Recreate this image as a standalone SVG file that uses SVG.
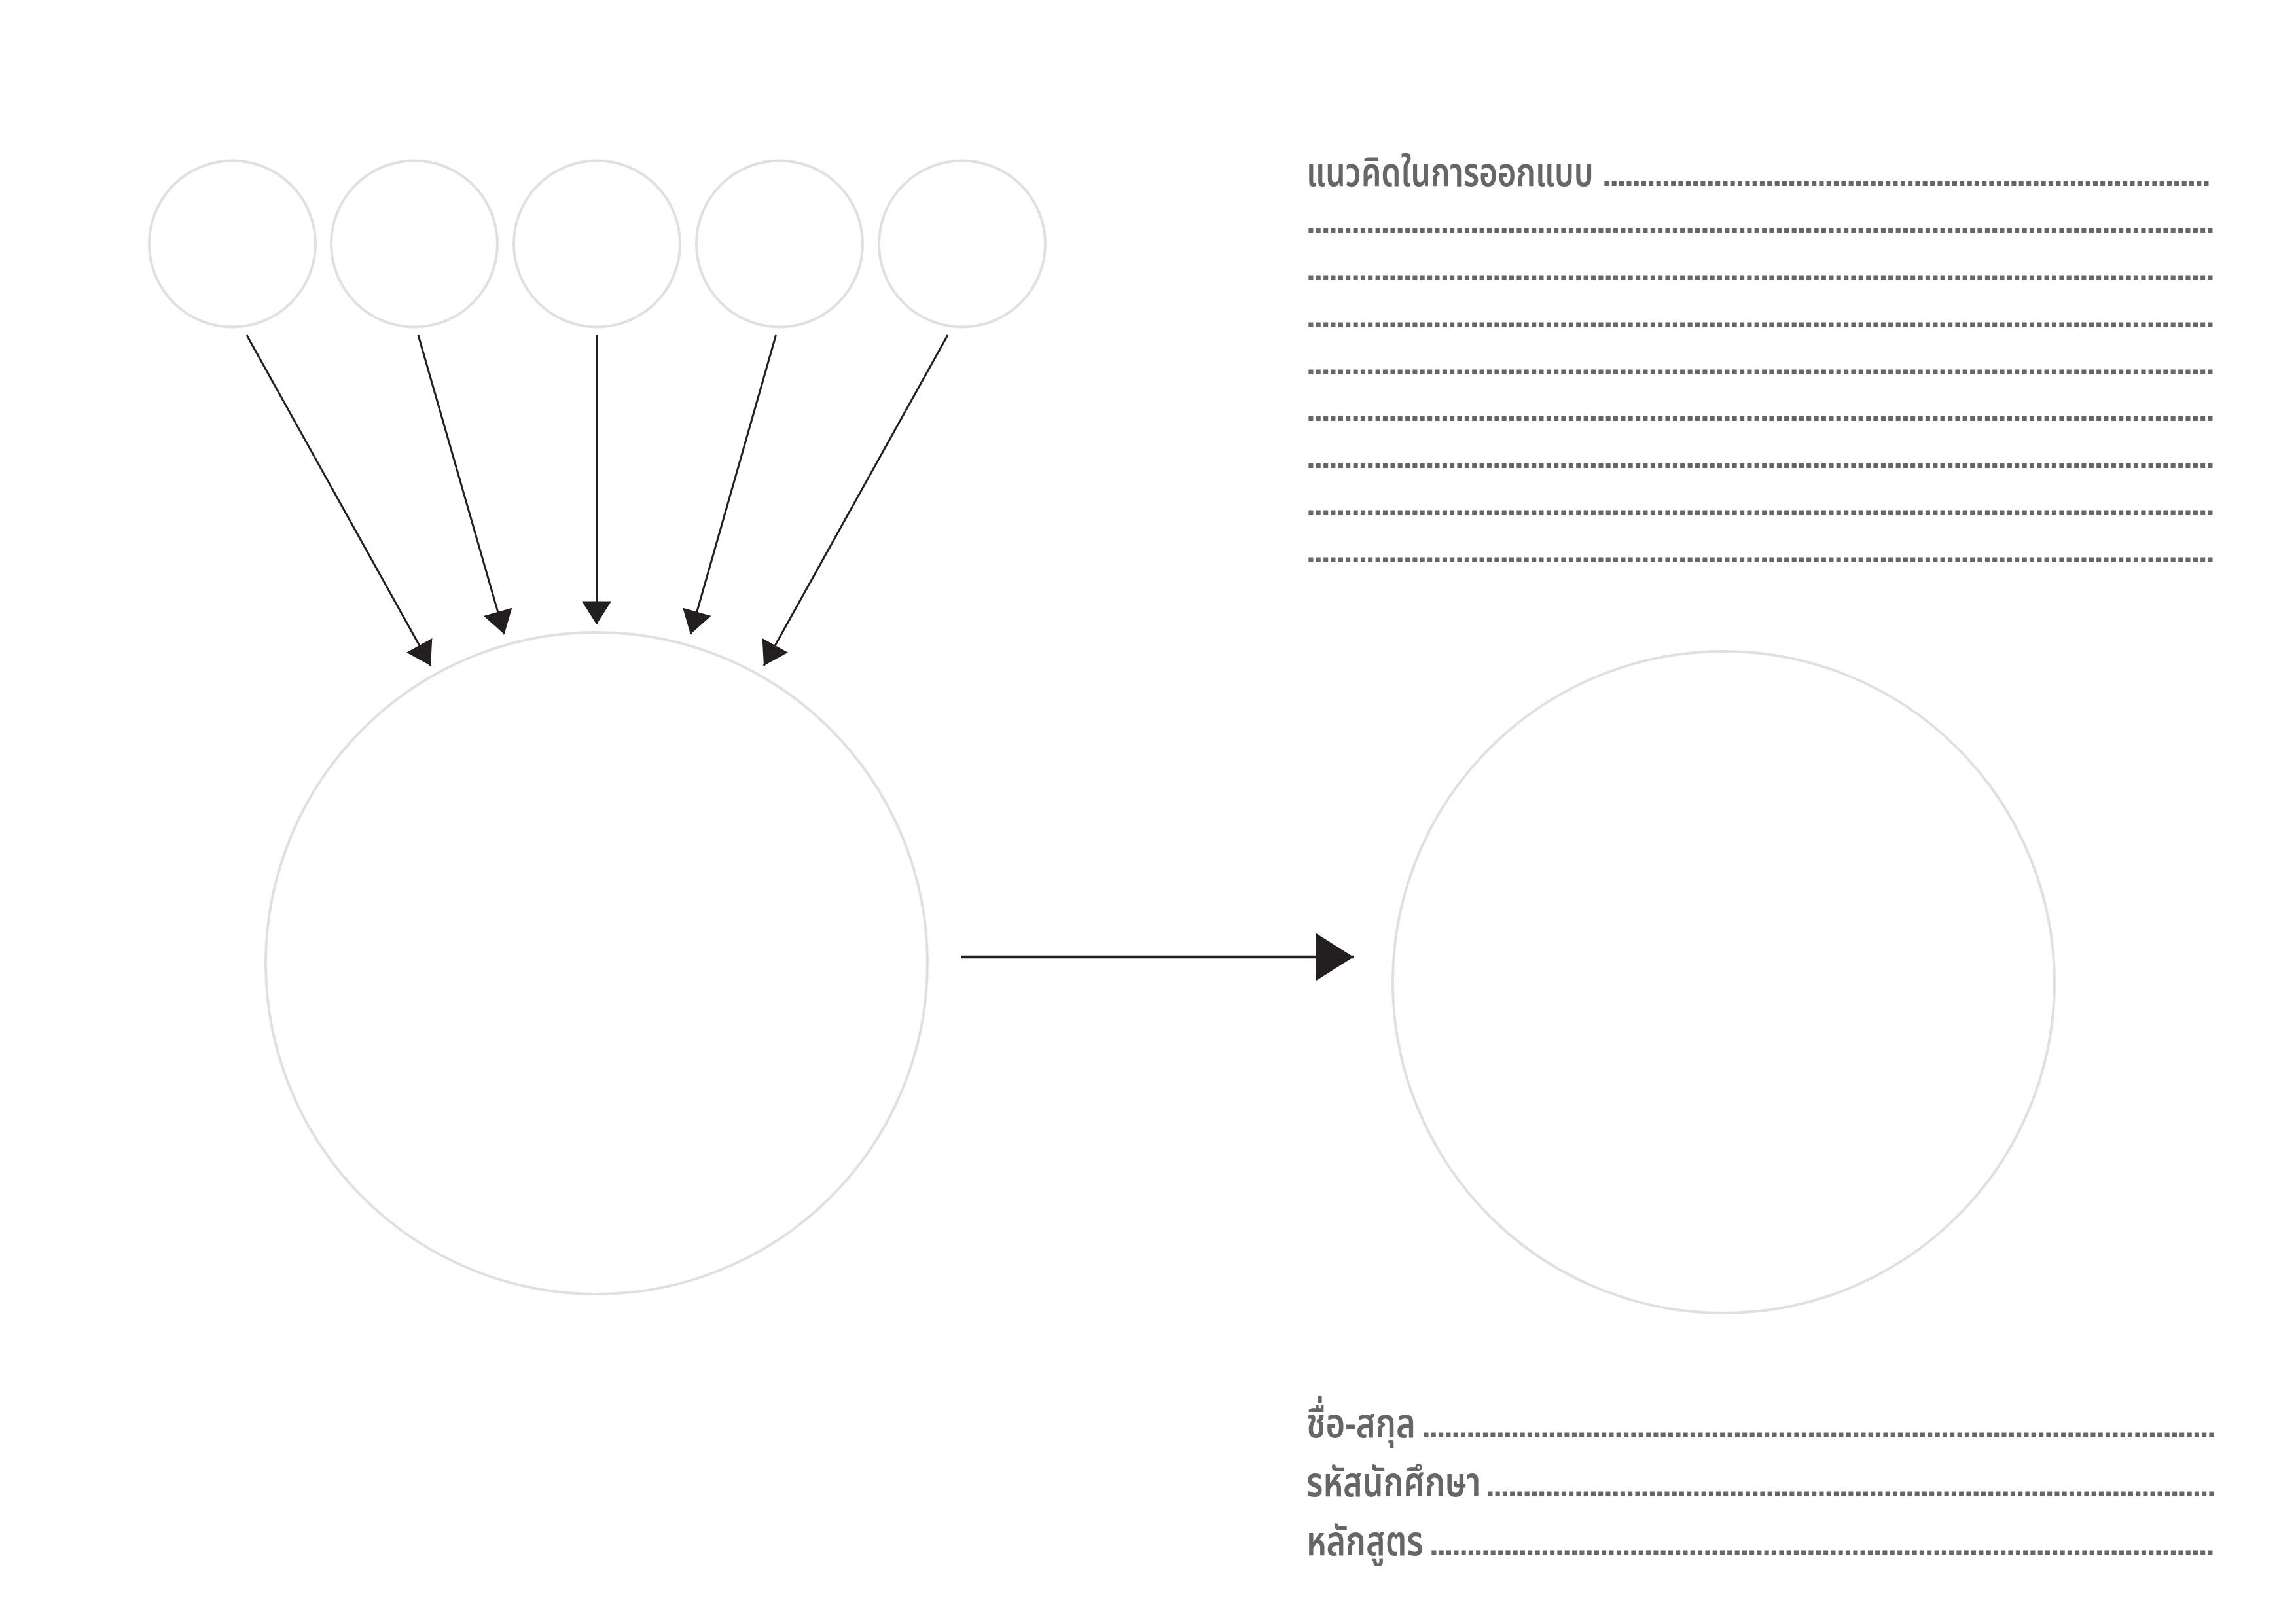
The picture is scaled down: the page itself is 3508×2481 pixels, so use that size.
<svg xmlns="http://www.w3.org/2000/svg" width="3508" height="2481" viewBox="0 0 3508 2481">
<style>
.node{fill:none;stroke:#e0e0e0;stroke-width:4}
.conn{stroke:#231f20;stroke-width:3;fill:none}
.main{stroke:#231f20;stroke-width:4.5;fill:none}
.lbl{font-family:"Noto Sans Thai","Noto Sans Thai UI","Noto Sans","DejaVu Sans",sans-serif;fill:#666666;font-weight:600}
.dots{font-family:"Liberation Sans","DejaVu Sans",sans-serif;font-size:50px;font-weight:bold;fill:#666666}
</style>
<defs>
<marker id="ah" markerUnits="userSpaceOnUse" markerWidth="36" markerHeight="45" refX="34" refY="21.5" orient="auto" viewBox="0 0 34 43">
<path d="M0,0 L34,21.5 L0,43 Z" fill="#231f20"/>
</marker>
<marker id="ahBig" markerUnits="userSpaceOnUse" markerWidth="58" markerHeight="73" refX="56" refY="35.5" orient="auto" viewBox="0 0 56 71">
<path d="M0,0 L56,35.5 L0,71 Z" fill="#231f20"/>
</marker>
</defs>
<rect width="3508" height="2481" fill="#ffffff"/>
<g id="input1"><circle class="node" cx="355" cy="372.5" r="127"/></g>
<g id="input2"><circle class="node" cx="633" cy="372.5" r="127"/></g>
<g id="input3"><circle class="node" cx="912" cy="372.5" r="127"/></g>
<g id="input4"><circle class="node" cx="1191" cy="372.5" r="127"/></g>
<g id="input5"><circle class="node" cx="1470" cy="372.5" r="127"/></g>
<g id="combine"><circle class="node" cx="911.5" cy="1471.5" r="505.5"/></g>
<g id="result"><circle class="node" cx="2633.5" cy="1500.5" r="505.5"/></g>
<g id="connectors">
<line class="conn" x1="377" y1="512" x2="658" y2="1017" marker-end="url(#ah)"/>
<line class="conn" x1="639" y1="512" x2="770.5" y2="969" marker-end="url(#ah)"/>
<line class="conn" x1="911.5" y1="512" x2="911.5" y2="954" marker-end="url(#ah)"/>
<line class="conn" x1="1185.5" y1="512" x2="1055" y2="969" marker-end="url(#ah)"/>
<line class="conn" x1="1448" y1="512" x2="1167" y2="1017" marker-end="url(#ah)"/>
<line class="main" x1="1469" y1="1462" x2="2068" y2="1462" marker-end="url(#ahBig)"/>
</g>
<g id="concept">
<text class="lbl" transform="translate(1996,284) scale(0.80,1)" font-size="60">แนวคิดในการออกแบบ</text>
<text class="dots" x="2448" y="284" textLength="930" lengthAdjust="spacing">..................................................................................</text>
<text class="dots" x="1996" y="356" textLength="1388" lengthAdjust="spacing">..........................................................................................................................</text>
<text class="dots" x="1996" y="428" textLength="1388" lengthAdjust="spacing">..........................................................................................................................</text>
<text class="dots" x="1996" y="500" textLength="1388" lengthAdjust="spacing">..........................................................................................................................</text>
<text class="dots" x="1996" y="572" textLength="1388" lengthAdjust="spacing">..........................................................................................................................</text>
<text class="dots" x="1996" y="643" textLength="1388" lengthAdjust="spacing">..........................................................................................................................</text>
<text class="dots" x="1996" y="715" textLength="1388" lengthAdjust="spacing">..........................................................................................................................</text>
<text class="dots" x="1996" y="787" textLength="1388" lengthAdjust="spacing">..........................................................................................................................</text>
<text class="dots" x="1996" y="859" textLength="1388" lengthAdjust="spacing">..........................................................................................................................</text>
</g>
<g id="student">
<text class="lbl" transform="translate(1996,2196) scale(0.82,1)" font-size="62">ชื่อ-สกุล</text>
<text class="dots" x="2172" y="2196" textLength="1214" lengthAdjust="spacing">...........................................................................................................</text>
<text class="lbl" transform="translate(1996,2286) scale(0.81,1)" font-size="62">รหัสนักศึกษา</text>
<text class="dots" x="2270" y="2286" textLength="1116" lengthAdjust="spacing">...................................................................................................</text>
<text class="lbl" transform="translate(1996,2376) scale(0.81,1)" font-size="62">หลักสูตร</text>
<text class="dots" x="2184" y="2376" textLength="1200" lengthAdjust="spacing">..........................................................................................................</text>
</g>
</svg>
